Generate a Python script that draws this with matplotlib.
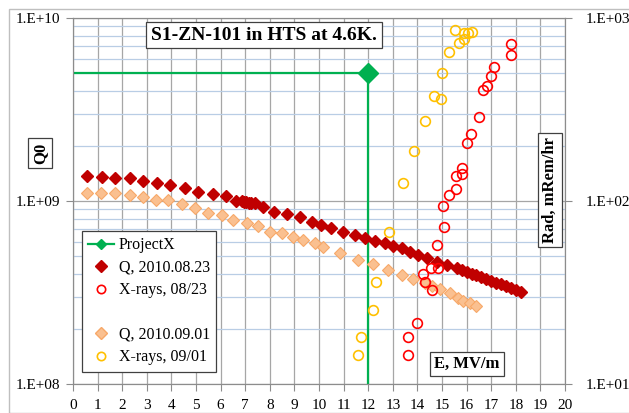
import numpy as np
import matplotlib.pyplot as plt
from matplotlib.ticker import FuncFormatter, NullFormatter, LogLocator, MultipleLocator
from matplotlib.lines import Line2D
from matplotlib.patches import Rectangle

plt.rcParams['font.family'] = ['Liberation Serif', 'DejaVu Serif']

# Q0, test of 2010.08.23
e_q1 = [0.57, 1.19, 1.69, 2.30, 2.85, 3.41, 3.96, 4.54, 5.08, 5.69, 6.21, 6.64,
        6.85, 6.95, 7.05, 7.15, 7.25, 7.38, 7.72, 8.17, 8.71, 9.23, 9.70, 10.1,
        10.5, 10.99, 11.46, 11.87, 12.28, 12.68, 13.02, 13.36, 13.70, 14.04, 14.38,
        14.78, 15.19, 15.6, 15.8, 16.0, 16.2, 16.4, 16.6, 16.8, 17.0, 17.2, 17.4,
        17.6, 17.8, 18.0, 18.2]
q1 = [1.371e9, 1.361e9, 1.330e9, 1.330e9, 1.291e9, 1.259e9, 1.222e9, 1.172e9,
      1.125e9, 1.089e9, 1.064e9, 1.005e9, 1.00e9, 0.99e9, 0.985e9, 0.98e9, 0.975e9,
      0.970e9, 0.931e9, 0.871e9, 0.849e9, 0.815e9, 0.771e9, 0.740e9, 0.710e9,
      0.679e9, 0.652e9, 0.625e9, 0.607e9, 0.587e9, 0.568e9, 0.552e9, 0.528e9,
      0.507e9, 0.486e9, 0.466e9, 0.447e9, 0.429e9, 0.419e9, 0.409e9, 0.401e9,
      0.392e9, 0.383e9, 0.374e9, 0.366e9, 0.358e9, 0.350e9, 0.342e9, 0.334e9,
      0.327e9, 0.319e9]

# Q0, test of 2010.09.01
e_q2 = [0.57, 1.15, 1.69, 2.30, 2.85, 3.39, 3.88, 4.42, 4.96, 5.50, 6.04, 6.52,
        7.06, 7.53, 8.0, 8.5, 8.93, 9.36, 9.84, 10.17, 10.85, 11.6, 12.2, 12.82,
        13.36, 13.83, 14.31, 14.6, 14.92, 15.33, 15.66, 15.87, 16.14, 16.38]
q2 = [1.10e9, 1.11e9, 1.11e9, 1.08e9, 1.047e9, 1.01e9, 1.01e9, 0.964e9, 0.912e9,
      0.863e9, 0.838e9, 0.787e9, 0.755e9, 0.730e9, 0.679e9, 0.665e9, 0.638e9,
      0.613e9, 0.592e9, 0.562e9, 0.518e9, 0.476e9, 0.453e9, 0.42e9, 0.394e9,
      0.373e9, 0.355e9, 0.342e9, 0.329e9, 0.315e9, 0.294e9, 0.285e9, 0.276e9,
      0.267e9]

# X-rays, mRem/hr
e_x1 = [17.79, 17.82, 17.13, 16.99, 16.83, 16.68, 16.49, 16.17, 16.0, 15.82, 15.81,
        15.57, 15.57, 15.30, 15.06, 15.10, 14.78, 14.82, 14.54, 14.24, 14.31, 14.58,
        13.97, 13.63, 13.63]
x1 = [718, 625, 540, 484, 426, 404, 289, 232, 208, 151, 141, 137, 116, 108, 93.5,
      71.8, 57.5, 43.3, 42.9, 39.7, 36.1, 32.6, 21.6, 18.1, 14.4]

e_x2 = [15.53, 15.89, 16.07, 16.23, 15.91, 15.69, 15.27, 15.0, 14.66, 14.94, 14.30,
        13.86, 13.40, 12.85, 12.30, 12.18, 11.69, 11.59]
x2 = [860, 825, 825, 841, 768, 727, 655, 502, 373, 359, 274, 188, 126, 67.9, 36.2,
      25.3, 18.1, 14.4]

# ProjectX goal
e_px = [0, 12, 12]
q_px = [5e9, 5e9, 1e8]

fig = plt.figure(figsize=(6.29, 4.13), dpi=100)
fig.patches.append(Rectangle((9 / 629, 0), 1, 1 - 9 / 413, transform=fig.transFigure,
                             fill=False, edgecolor='#BFBFBF', lw=1.0))
ax = fig.add_axes([73 / 629, 29 / 413, 492 / 629, 366 / 413])
ax2 = ax.twinx()

ax.set_xlim(0, 20)
ax.set_yscale('log')
ax.set_ylim(1e8, 1e10)
ax2.set_yscale('log')
ax2.set_ylim(1e1, 1e3)

ax.xaxis.set_major_locator(MultipleLocator(1))
ax.yaxis.set_minor_locator(LogLocator(base=10, subs=np.arange(2, 10)))
ax.yaxis.set_minor_formatter(NullFormatter())
ax2.yaxis.set_minor_formatter(NullFormatter())
fmt = FuncFormatter(lambda v, p: '1.E+%02d' % round(np.log10(v)))
ax.yaxis.set_major_formatter(fmt)
ax2.yaxis.set_major_formatter(fmt)

ax.grid(which='major', axis='x', color='#A6A6A6', lw=0.9)
ax.grid(which='major', axis='y', color='#A6A6A6', lw=0.9)
ax.grid(which='minor', axis='y', color='#B9CDE5', lw=0.9)
ax.set_axisbelow(True)

for a in (ax, ax2):
    for s in a.spines.values():
        s.set_color('#8C8C8C')
    a.tick_params(which='major', length=5, color='#8C8C8C', labelsize=11)
    a.tick_params(which='minor', length=0)
ax.tick_params(axis='x', pad=6)
ax.tick_params(axis='y', pad=4)
ax2.tick_params(axis='y', pad=10)

ax.plot(e_px, q_px, color='#00B050', lw=1.6, marker='D', markevery=[1], ms=10,
        zorder=3)
ax.plot(e_q2, q2, linestyle='none', marker='D', ms=6, mfc='#FAC090',
        mec='#F7A868', mew=0.8, zorder=4)
ax.plot(e_q1, q1, linestyle='none', marker='D', ms=6, color='#C00000', zorder=5)

ax2.plot(e_x1, x1, linestyle='none', marker='o', ms=7, mfc='none', mec='#FF0000',
         mew=1.2)
ax2.plot(e_x2, x2, linestyle='none', marker='o', ms=7, mfc='none', mec='#FFC000',
         mew=1.2)

box = dict(facecolor='white', edgecolor='#404040', boxstyle='square,pad=0.25', lw=0.9)
fig.text(264 / 629, 1 - 35 / 413, 'S1-ZN-101 in HTS at 4.6K.', ha='center',
         va='center', fontsize=14, fontweight='bold', bbox=box)
fig.text(40 / 629, 1 - 153 / 413, 'Q0', rotation=90, ha='center', va='center',
         fontsize=12, fontweight='bold', bbox=box)
fig.text(550 / 629, 1 - 190 / 413, 'Rad, mRem/hr', rotation=90, ha='center',
         va='center', fontsize=12, fontweight='bold', bbox=box)
fig.text(467 / 629, 1 - 364 / 413, 'E, MV/m', ha='center', va='center',
         fontsize=12, fontweight='bold', bbox=box)

handles = [
    Line2D([], [], color='#00B050', lw=1.6, marker='D', ms=5),
    Line2D([], [], ls='none', marker='D', ms=6, color='#C00000'),
    Line2D([], [], ls='none', marker='o', ms=6, mfc='none', mec='#FF0000', mew=1.2),
    Line2D([], [], ls='none'),
    Line2D([], [], ls='none', marker='D', ms=6, mfc='#FAC090', mec='#F7A868'),
    Line2D([], [], ls='none', marker='o', ms=6, mfc='none', mec='#FFC000', mew=1.2),
]
labels = ['ProjectX', 'Q, 2010.08.23', 'X-rays, 08/23', ' ', 'Q, 2010.09.01',
          'X-rays, 09/01']
leg = ax2.legend(handles, labels, loc='upper left',
                 bbox_to_anchor=(82 / 629, 1 - 231 / 413),
                 bbox_transform=fig.transFigure, fontsize=11.5, frameon=True,
                 fancybox=False, edgecolor='#404040', framealpha=1,
                 handlelength=1.6, handletextpad=0.3, labelspacing=0.4,
                 borderpad=0.4, borderaxespad=0)
leg.get_frame().set_linewidth(0.9)

plt.savefig('out.png', dpi=100)
